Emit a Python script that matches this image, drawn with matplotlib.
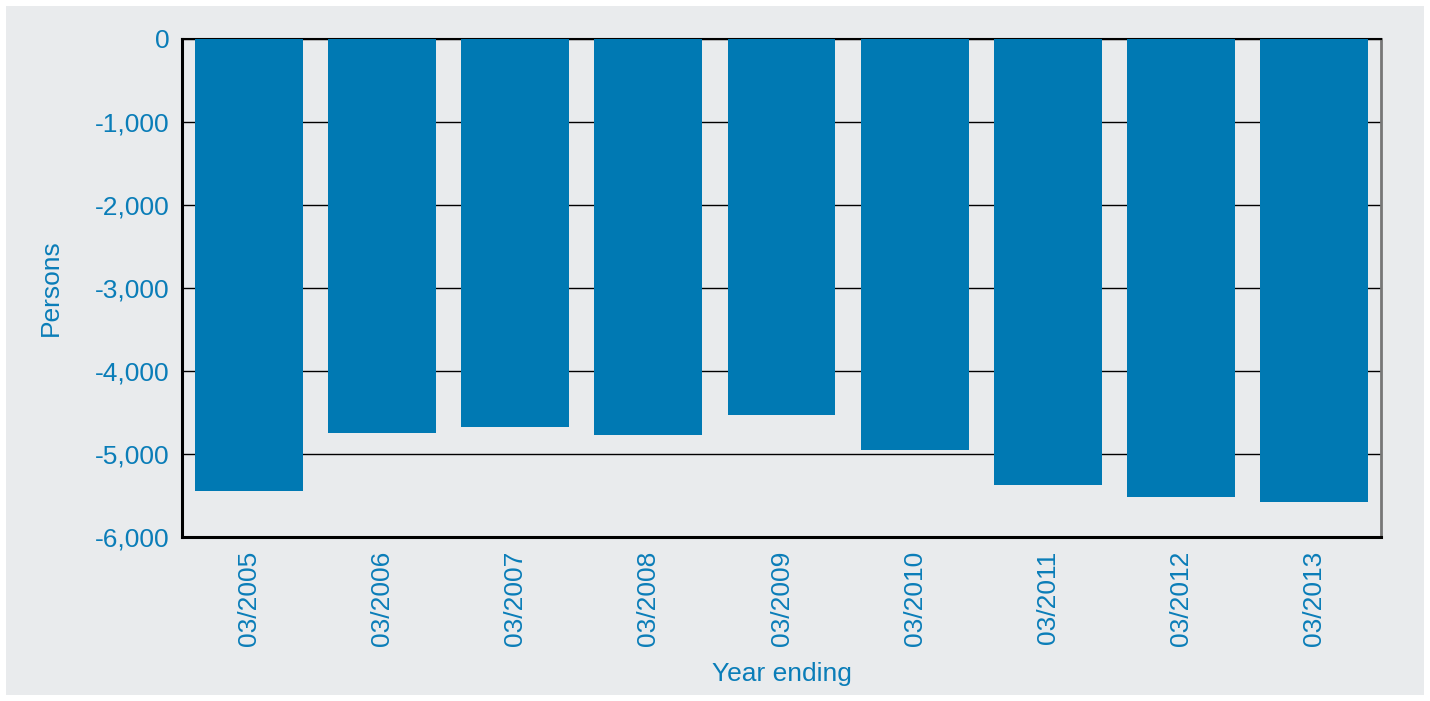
import matplotlib
matplotlib.use("Agg")
import matplotlib.pyplot as plt
from matplotlib.patches import Rectangle
from matplotlib.ticker import FuncFormatter

categories = ["03/2005", "03/2006", "03/2007", "03/2008", "03/2009",
              "03/2010", "03/2011", "03/2012", "03/2013"]
values = [-5446, -4747, -4675, -4771, -4530, -4952, -5373, -5518, -5578]
yticks = [0, -1000, -2000, -3000, -4000, -5000, -6000]

W, H = 1430, 701
dpi = 100
bg = "#E9EBED"
bar_color = "#0079B3"
text_color = "#0A7DB8"

plt.rcParams['font.family'] = ['Liberation Sans', 'DejaVu Sans']

fig = plt.figure(figsize=(W / dpi, H / dpi), dpi=dpi, facecolor="white")
fig.patches.append(Rectangle((6 / W, 6 / H), (W - 12) / W, (H - 12) / H,
                             transform=fig.transFigure, facecolor=bg,
                             edgecolor="none", zorder=-10))

left, right, top, bottom = 182, 1381, 39, 537
ax = fig.add_axes([left / W, 1 - bottom / H, (right - left) / W, (bottom - top) / H])
ax.set_zorder(1)
ax.set_facecolor(bg)

x = list(range(len(categories)))
ax.bar(x, values, width=0.81, color=bar_color, zorder=3)
ax.set_xlim(-0.5, len(categories) - 0.5)
ax.set_ylim(-6000, 0)
ax.set_yticks(yticks)
ax.yaxis.set_major_formatter(FuncFormatter(lambda v, p: f"{int(v):,}"))
ax.set_xticks(x)
ax.set_xticklabels(categories, rotation=90)

ax.grid(axis="y", color="black", linewidth=1.0, zorder=1)
ax.set_axisbelow(True)

fs = 19
ax.tick_params(axis="both", length=0, labelsize=fs, colors=text_color, pad=9)
ax.tick_params(axis="x", pad=10)

for s in ["left", "bottom"]:
    ax.spines[s].set_linewidth(2.2)
    ax.spines[s].set_color("black")
ax.spines["top"].set_linewidth(1.5)
ax.spines["top"].set_color("black")
ax.spines["right"].set_linewidth(2.0)
ax.spines["right"].set_color("#777777")

ax.set_ylabel("Persons", fontsize=fs, color=text_color, labelpad=23)
ax.set_xlabel("Year ending", fontsize=fs, color=text_color, labelpad=11)

fig.savefig("out.png", dpi=dpi, facecolor="white")
